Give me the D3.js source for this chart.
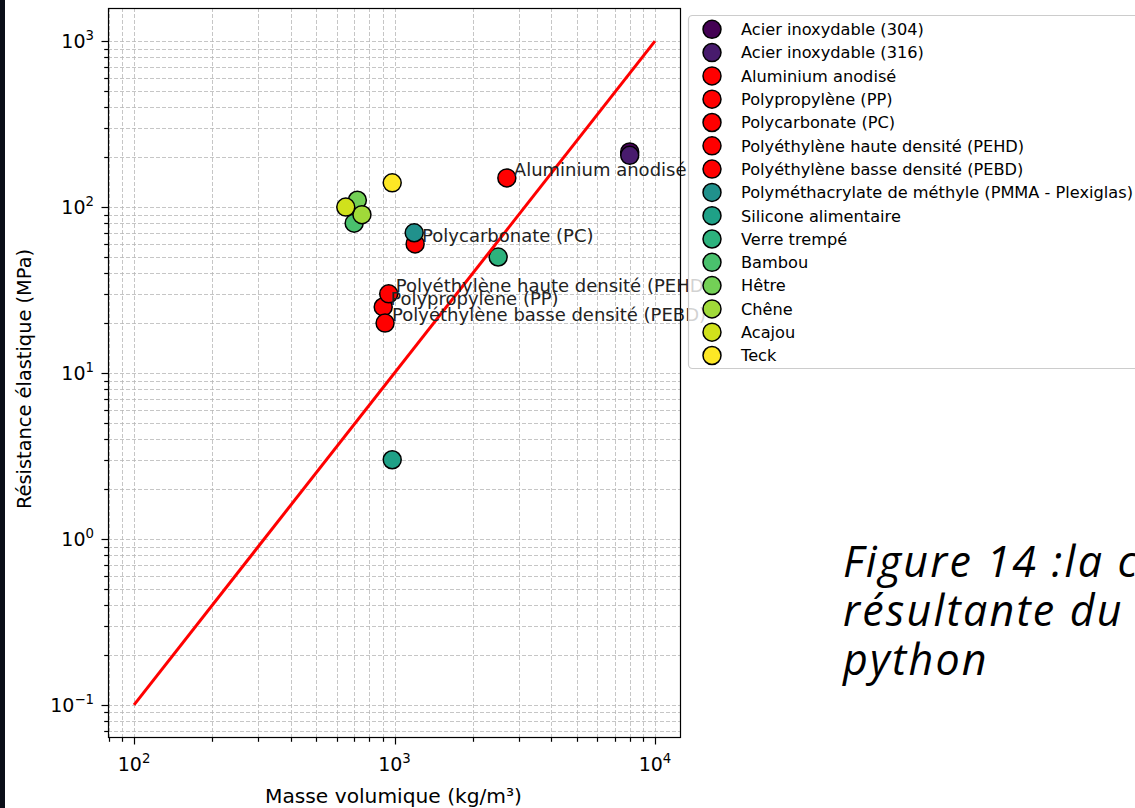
<!DOCTYPE html>
<html><head><meta charset="utf-8">
<script src="https://cdn.jsdelivr.net/npm/d3@7"></script>
<style>body{margin:0;background:#fff}svg{display:block}</style>
</head><body>
<svg id="chart" width="1135" height="808"></svg>
<script>
// ---- data ----
const materials = [
  "Acier inoxydable (304)", "Acier inoxydable (316)", "Aluminium anodisé",
  "Polypropylène (PP)", "Polycarbonate (PC)", "Polyéthylène haute densité (PEHD)",
  "Polyéthylène basse densité (PEBD)", "Polyméthacrylate de méthyle (PMMA - Plexiglas)",
  "Silicone alimentaire", "Verre trempé", "Bambou", "Hêtre", "Chêne", "Acajou", "Teck"
];
const density  = [8000, 8000, 2700, 905, 1200, 950, 920, 1190, 980, 2500, 700, 720, 750, 650, 980];
const strength = [215, 205, 150, 25, 60, 30, 20, 70, 3, 50, 80, 110, 90, 100, 140];
const annotated = [false, false, true, true, true, true, true, false, false, false, false, false, false, false, false];
const refLineDensity  = [100, 10000];
const refLineStrength = [0.1, 1000];
const xLabel = "Masse volumique (kg/m³)";
const yLabel = "Résistance élastique (MPa)";
const captionLines = ["Figure 14 :la courbe", "résultante du code", "python"];

// ---- layout ----
const svg = d3.select("#chart");
const L = 108, R = 681, T = 8, B = 738;
const font = "DejaVu Sans, sans-serif";

svg.append("rect").attr("width", 1135).attr("height", 808).attr("fill", "#fff");
svg.append("rect").attr("x", 0).attr("y", 0).attr("width", 5).attr("height", 808).attr("fill", "#0a0e18");

function padLog(arr) {
  const lo = Math.log10(d3.min(arr)), hi = Math.log10(d3.max(arr));
  const m = (hi - lo) * 0.05;
  return [10 ** (lo - m), 10 ** (hi + m)];
}
const x = d3.scaleLog().domain(padLog(refLineDensity)).range([L, R]);
const y = d3.scaleLog().domain(padLog(refLineStrength)).range([B, T]);

const isMajor = v => Math.abs(Math.log10(v) - Math.round(Math.log10(v))) < 1e-9;
const xt = x.ticks(), yt = y.ticks();

// grid
const grid = svg.append("g").attr("stroke", "#b0b0b0").attr("stroke-width", 0.8)
  .attr("stroke-dasharray", "4,2").attr("opacity", 0.9);
grid.selectAll(".gx").data(xt).join("line")
  .attr("x1", d => Math.round(x(d)) + 0.5).attr("x2", d => Math.round(x(d)) + 0.5)
  .attr("y1", T).attr("y2", B);
grid.selectAll(".gy").data(yt).join("line")
  .attr("y1", d => Math.round(y(d)) + 0.5).attr("y2", d => Math.round(y(d)) + 0.5)
  .attr("x1", L).attr("x2", R);

// points
const idx = d3.range(materials.length);
const color = i => annotated[i] ? "#ff0000" : d3.interpolateViridis(i / (materials.length - 1));
svg.append("g").selectAll("circle").data(idx).join("circle")
  .attr("cx", i => x(density[i])).attr("cy", i => y(strength[i]))
  .attr("r", 9).attr("fill", color).attr("stroke", "#000").attr("stroke-width", 1.5);

// reference line
svg.append("path")
  .datum(d3.zip(refLineDensity, refLineStrength))
  .attr("d", d3.line().x(d => x(d[0])).y(d => y(d[1])))
  .attr("stroke", "#ff0000").attr("stroke-width", 3).attr("fill", "none");

// annotations
svg.append("g").selectAll("text").data(idx.filter(i => annotated[i])).join("text")
  .attr("x", i => x(density[i]) + 7).attr("y", i => y(strength[i]) - 2)
  .attr("font-family", font).attr("font-size", 18).attr("fill", "#222")
  .text(i => materials[i]);

// spines
svg.append("rect").attr("x", L + 0.5).attr("y", T + 0.5).attr("width", R - L - 1).attr("height", B - T - 1)
  .attr("fill", "none").attr("stroke", "#000").attr("stroke-width", 1.2);

// ticks
const tk = svg.append("g").attr("stroke", "#000").attr("stroke-width", 1.2);
tk.selectAll(".tx").data(xt).join("line")
  .attr("x1", d => Math.round(x(d)) + 0.5).attr("x2", d => Math.round(x(d)) + 0.5)
  .attr("y1", B).attr("y2", d => B + (isMajor(d) ? 6.5 : 3.8));
tk.selectAll(".ty").data(yt).join("line")
  .attr("y1", d => Math.round(y(d)) + 0.5).attr("y2", d => Math.round(y(d)) + 0.5)
  .attr("x1", L).attr("x2", d => L - (isMajor(d) ? 6.5 : 3.8));

function powLabel(sel, v) {
  const e = Math.round(Math.log10(v));
  sel.append("tspan").text("10");
  sel.append("tspan").attr("font-size", "70%").attr("dy", "-0.62em")
    .text(e < 0 ? "\u2212" + (-e) : String(e));
}
svg.append("g").selectAll("text").data(xt.filter(isMajor)).join("text")
  .attr("x", d => x(d)).attr("y", 771).attr("text-anchor", "middle")
  .attr("font-family", font).attr("font-size", 19).attr("fill", "#000")
  .each(function (d) { powLabel(d3.select(this), d); });
svg.append("g").selectAll("text").data(yt.filter(isMajor)).join("text")
  .attr("x", 94).attr("y", d => y(d) + 7).attr("text-anchor", "end")
  .attr("font-family", font).attr("font-size", 19).attr("fill", "#000")
  .each(function (d) { powLabel(d3.select(this), d); });

// axis labels
svg.append("text").attr("x", (L + R) / 2 - 1).attr("y", 803).attr("text-anchor", "middle")
  .attr("font-family", font).attr("font-size", 20.2).attr("fill", "#000").text(xLabel);
svg.append("text").attr("transform", `translate(31,${(T + B) / 2 + 6}) rotate(-90)`).attr("text-anchor", "middle")
  .attr("font-family", font).attr("font-size", 19.4).attr("fill", "#000").text(yLabel);

// legend
const lg = svg.append("g");
lg.append("rect").attr("x", 688.5).attr("y", 15.5).attr("width", 470).attr("height", 353)
  .attr("rx", 4).attr("fill", "#fff").attr("fill-opacity", 0.8).attr("stroke", "#cccccc").attr("stroke-width", 1.2);
const ly = i => 29.3 + i * 23.3;
lg.selectAll("circle").data(idx).join("circle")
  .attr("cx", 712).attr("cy", ly).attr("r", 9)
  .attr("fill", color).attr("stroke", "#000").attr("stroke-width", 1.5);
lg.selectAll("text").data(idx).join("text")
  .attr("x", 741).attr("y", i => ly(i) + 5.8)
  .attr("font-family", font).attr("font-size", 16.2).attr("fill", "#000")
  .text(i => materials[i]);

// caption
svg.append("g").selectAll("text").data(captionLines).join("text")
  .attr("x", 843).attr("y", (d, i) => 577 + i * 49)
  .attr("font-family", "Open Sans, sans-serif").attr("font-style", "italic").attr("font-size", 43)
  .attr("letter-spacing", 2.2).attr("fill", "#000")
  .text(d => d);
</script>
</body></html>
